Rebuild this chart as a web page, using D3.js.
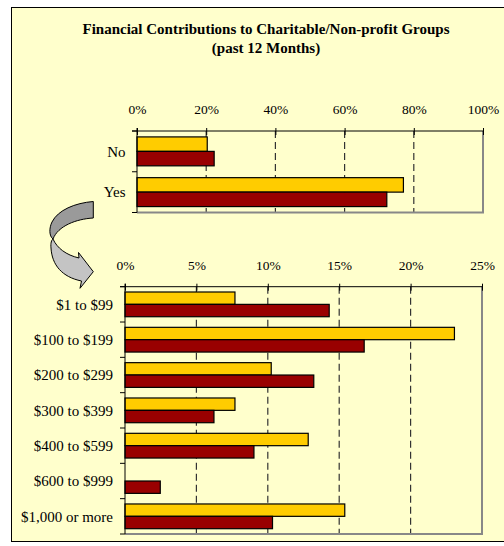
<!DOCTYPE html>
<html><head><meta charset="utf-8">
<script src="https://cdn.jsdelivr.net/npm/d3@7"></script>
<style>body{margin:0;background:#fff}svg{display:block}</style>
</head><body>
<svg id="c" width="504" height="546"></svg>
<script>
// ---- data ----
const titleLines = ["Financial Contributions to Charitable/Non-profit Groups", "(past 12 Months)"];
const topCategories = ["No", "Yes"];
const topSeriesA = [0.203, 0.770];   // yellow
const topSeriesB = [0.223, 0.722];   // dark red
const topTicks = [0, 0.2, 0.4, 0.6, 0.8, 1.0];
const botCategories = ["$1 to $99", "$100 to $199", "$200 to $299", "$300 to $399", "$400 to $599", "$600 to $999", "$1,000 or more"];
const botSeriesA = [0.077, 0.2307, 0.1024, 0.077, 0.1283, 0, 0.1539];
const botSeriesB = [0.143, 0.1675, 0.1322, 0.0623, 0.0903, 0.0247, 0.1033];
const botTicks = [0, 0.05, 0.10, 0.15, 0.20, 0.25];

const colA = "#FFCC00", colB = "#990000";
const svg = d3.select("#c");
const font = "'Liberation Serif','Times New Roman',serif";

// frame
svg.append("rect").attr("x", 11.5).attr("y", 7.5).attr("width", 520).attr("height", 534)
  .attr("fill", "#FFFFCC").attr("stroke", "#000").attr("stroke-width", 1);

// title
svg.append("g").selectAll("text").data(titleLines).join("text")
  .attr("x", 266).attr("y", (d, i) => 34 + i * 19)
  .attr("text-anchor", "middle").attr("font-family", font)
  .attr("font-weight", "bold").attr("font-size", 15).attr("fill", "#000").text(d => d);

function panel(cfg) {
  const x = d3.scaleLinear().domain(cfg.domain).range([cfg.x0, cfg.x1]);
  const y = d3.scaleBand().domain(cfg.cats).range([cfg.y0, cfg.y1]).paddingInner(0).paddingOuter(0);
  const g = svg.append("g");
  // gridlines
  g.append("g").selectAll("line").data(cfg.ticks.slice(1, -1)).join("line")
    .attr("x1", d => x(d)).attr("x2", d => x(d)).attr("y1", cfg.y0).attr("y2", cfg.y1)
    .attr("stroke", "#333").attr("stroke-width", 1.2).attr("stroke-dasharray", "7,4");
  // right/bottom border gray
  g.append("path").attr("d", `M${cfg.x1},${cfg.y0}V${cfg.y1}H${cfg.x0}`)
    .attr("fill", "none").attr("stroke", "#888").attr("stroke-width", 2);
  // bars
  const grp = y.bandwidth() * cfg.grpFrac;
  const sub = d3.scaleBand().domain([0, 1]).range([0, grp]);
  cfg.cats.forEach((c, i) => {
    const top = y(c) + (y.bandwidth() - grp) / 2;
    [[cfg.a[i], colA, 0], [cfg.b[i], colB, 1]].forEach(([v, col, k]) => {
      if (v <= 0) return;
      g.append("rect").attr("x", x(0)).attr("y", top + sub(k))
        .attr("width", x(v) - x(0)).attr("height", sub.bandwidth())
        .attr("fill", col).attr("stroke", "#000").attr("stroke-width", 1.2);
    });
  });
  // top axis
  const ax = g.append("g").attr("transform", `translate(0,${cfg.y0})`)
    .call(d3.axisTop(x).tickValues(cfg.ticks).tickFormat(d3.format(".0%")).tickSize(3).tickSizeOuter(0));
  ax.select(".domain").attr("stroke", "#000").attr("d", `M${cfg.x0 - 5},0H${cfg.x1}`);
  ax.selectAll(".tick line").attr("y1", -3).attr("y2", 4).attr("stroke", "#000");
  ax.selectAll(".tick text").attr("y", -17).attr("dy", 0)
    .attr("font-family", font).attr("font-size", 13.5).attr("fill", "#000");
  // left axis
  g.append("line").attr("x1", cfg.x0).attr("x2", cfg.x0).attr("y1", cfg.y0 - 3).attr("y2", cfg.y1)
    .attr("stroke", "#000");
  const bounds = cfg.cats.map(c => y(c) + y.bandwidth()).concat([cfg.y0]);
  g.append("g").selectAll("line").data(bounds).join("line")
    .attr("x1", cfg.x0 - 5).attr("x2", cfg.x0).attr("y1", d => d).attr("y2", d => d).attr("stroke", "#000");
  g.append("g").selectAll("text").data(cfg.cats).join("text")
    .attr("x", cfg.x0 - cfg.labelGap).attr("y", c => y(c) + y.bandwidth() / 2)
    .attr("dy", "0.35em").attr("text-anchor", "end")
    .attr("font-family", font).attr("font-size", 15).attr("fill", "#000").text(c => c);
}

panel({ domain: [0, 1], x0: 137, x1: 483, y0: 131, y1: 212.5, cats: topCategories,
  a: topSeriesA, b: topSeriesB, ticks: topTicks, grpFrac: 0.71, labelGap: 11.5 });
panel({ domain: [0, 0.25], x0: 125, x1: 482, y0: 286.7, y1: 534, cats: botCategories,
  a: botSeriesA, b: botSeriesB, ticks: botTicks, grpFrac: 0.70, labelGap: 12 });

// curved arrow
const arrow = svg.append("g").attr("stroke", "#000").attr("stroke-width", 1).attr("stroke-linejoin", "round");
arrow.append("path")
  .attr("d", "M93.3,201.5 L93.3,218 C76,219 58,226 53,239 C49,236 49,228 52,222 C58,210 75,203 93.3,201.5 Z")
  .attr("fill", "#9a9a9a");
arrow.append("path")
  .attr("d", "M53,239 C57,248 66,255 79,258 L78.5,252.5 L93.3,271.7 L80,288.3 L81.5,281 C62,277 52,265 51,248 C50.5,243 51.5,240 53,239 Z")
  .attr("fill", "#c4c4c4");
</script>
</body></html>
